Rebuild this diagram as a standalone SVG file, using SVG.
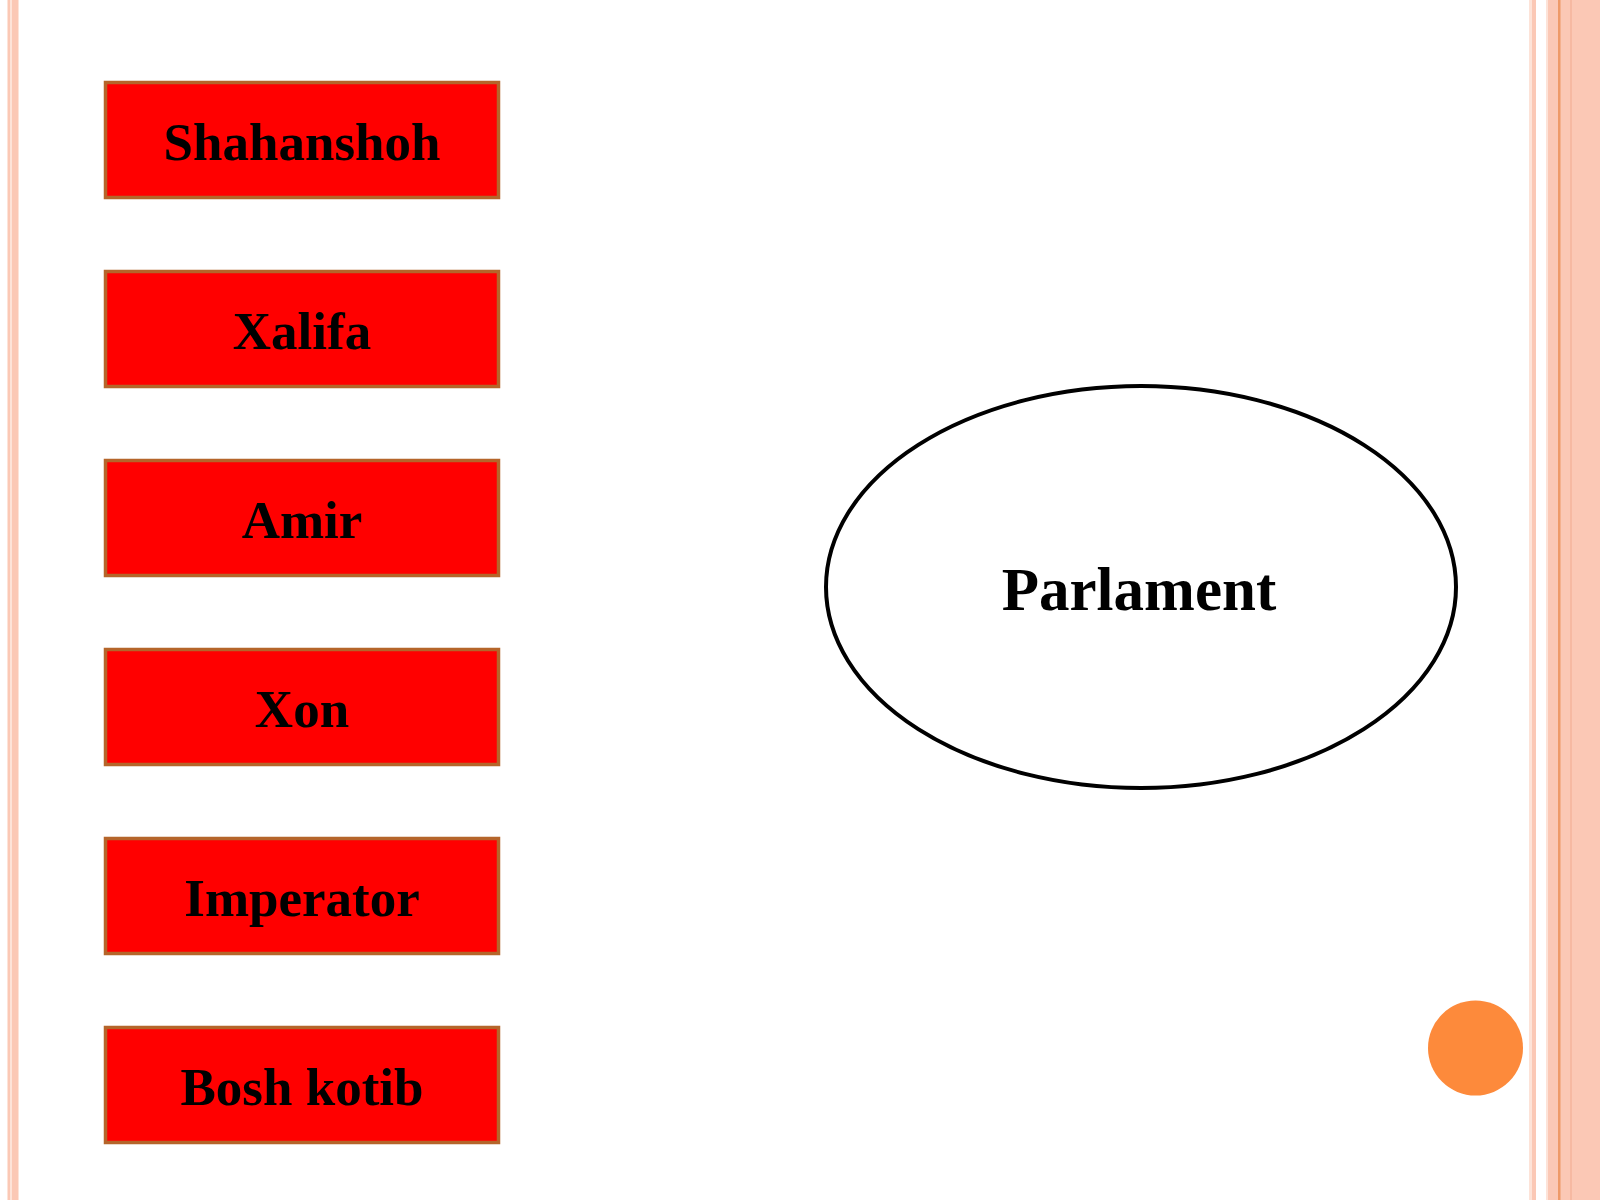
<svg xmlns="http://www.w3.org/2000/svg" width="1600" height="1200" viewBox="0 0 1600 1200">
  <style>
    .box { fill: #ff0000; stroke: #b5652a; stroke-width: 3.5; }
    .lbl { font-family: "Liberation Serif", "Times New Roman", serif; font-weight: bold; font-size: 53px; fill: #000; text-anchor: middle; }
    .stripe { fill: #fbc8b5; }
    .pale { fill: #fde3d8; }
  </style>
  <rect x="0" y="0" width="1600" height="1200" fill="#ffffff"/>
  <g id="border-left">
    <rect class="pale" x="7" y="0" width="1" height="1200"/>
    <rect class="stripe" x="8" y="0" width="2" height="1200"/>
    <rect class="pale" x="10" y="0" width="2" height="1200"/>
    <rect class="stripe" x="12" y="0" width="6" height="1200"/>
    <rect class="pale" x="18" y="0" width="1" height="1200"/>
  </g>
  <g id="border-right">
    <rect class="pale" x="1529" y="0" width="3" height="1200"/>
    <rect class="stripe" x="1532" y="0" width="4" height="1200"/>
    <rect class="pale" x="1546" y="0" width="2" height="1200"/>
    <rect class="stripe" x="1548" y="0" width="52" height="1200"/>
    <rect x="1558" y="0" width="2.5" height="1200" fill="#ee9a68"/>
    <rect x="1570" y="0" width="2" height="1200" fill="#f6b9a2"/>
  </g>
  <g id="n-shahanshoh">
    <rect class="box" x="105.5" y="82.5" width="393" height="115"/>
    <text class="lbl" x="302" y="160">Shahanshoh</text>
  </g>
  <g id="n-xalifa">
    <rect class="box" x="105.5" y="271.5" width="393" height="115"/>
    <text class="lbl" x="302" y="349">Xalifa</text>
  </g>
  <g id="n-amir">
    <rect class="box" x="105.5" y="460.5" width="393" height="115"/>
    <text class="lbl" x="302" y="538">Amir</text>
  </g>
  <g id="n-xon">
    <rect class="box" x="105.5" y="649.5" width="393" height="115"/>
    <text class="lbl" x="302" y="727">Xon</text>
  </g>
  <g id="n-imperator">
    <rect class="box" x="105.5" y="838.5" width="393" height="115"/>
    <text class="lbl" x="302" y="916">Imperator</text>
  </g>
  <g id="n-boshkotib">
    <rect class="box" x="105.5" y="1027.5" width="393" height="115"/>
    <text class="lbl" x="302" y="1105">Bosh kotib</text>
  </g>
  <g id="n-parlament">
    <ellipse cx="1141" cy="587" rx="315" ry="201" fill="#ffffff" stroke="#000000" stroke-width="4"/>
    <text x="1139" y="610" font-family="Liberation Serif, 'Times New Roman', serif" font-weight="bold" font-size="61" text-anchor="middle" fill="#000">Parlament</text>
  </g>
  <g id="connectors"/>
  <circle id="dot" cx="1475.5" cy="1048" r="47.5" fill="#fd8a3b"/>
</svg>
